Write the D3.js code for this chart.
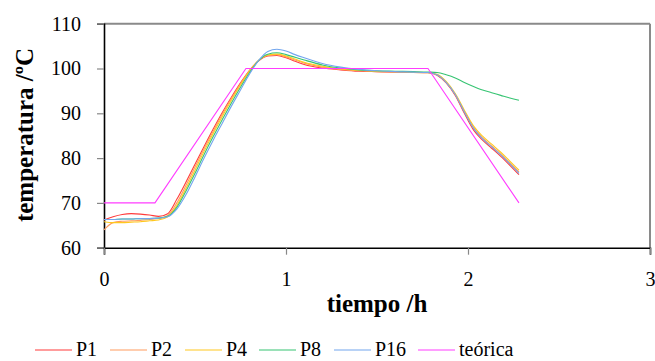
<!DOCTYPE html>
<html>
<head>
<meta charset="utf-8">
<script src="https://cdn.jsdelivr.net/npm/d3@7"></script>
<style>
  body { margin: 0; background: #fff; }
  svg { display: block; }
</style>
</head>
<body>
<svg id="chart" width="655" height="361"></svg>
<script>
// Sampling instants (h) shared by the measured probes
const times = [0, 0.05, 0.1, 0.15, 0.2, 0.25, 0.3, 0.35, 0.4, 0.45,
               0.5, 0.55, 0.6, 0.65, 0.7, 0.75, 0.8, 0.85, 0.9, 0.95,
               1.0, 1.05, 1.1, 1.2, 1.3, 1.4, 1.5, 1.6, 1.7, 1.78,
               1.83, 1.88, 1.93, 1.98, 2.03, 2.08, 2.13, 2.18, 2.23, 2.28];

// Measured temperatures (ºC) per probe
const p1  = [66.2, 66.9, 67.4, 67.6, 67.5, 67.3, 67.0, 67.6, 70.8, 74.6,
             78.6, 82.6, 86.5, 90.2, 93.6, 96.8, 99.6, 101.7, 102.8, 102.9,
             102.4, 101.6, 100.9, 100.1, 99.7, 99.4, 99.3, 99.2, 99.1, 99.1,
             98.5, 96.8, 94.0, 90.0, 86.3, 84.0, 82.2, 80.4, 78.4, 76.3];
const p2  = [64.0, 65.6, 65.9, 66.0, 66.1, 66.3, 66.5, 67.2, 70.0, 73.9,
             78.0, 82.1, 86.0, 89.8, 93.3, 96.6, 99.6, 101.8, 102.9, 103.1,
             102.6, 101.9, 101.2, 100.3, 99.8, 99.5, 99.3, 99.2, 99.1, 99.0,
             98.6, 96.9, 94.2, 90.4, 86.8, 84.5, 82.7, 80.9, 78.9, 76.9];
const p4  = [65.8, 65.6, 65.6, 65.7, 65.8, 66.0, 66.2, 66.9, 69.4, 73.2,
             77.3, 81.5, 85.5, 89.3, 92.9, 96.3, 99.4, 101.8, 103.0, 103.2,
             102.8, 102.1, 101.4, 100.5, 99.9, 99.6, 99.4, 99.3, 99.2, 99.1,
             98.7, 97.1, 94.4, 90.7, 87.2, 84.9, 83.1, 81.3, 79.3, 77.3];
const p8  = [66.3, 66.3, 66.4, 66.4, 66.5, 66.5, 66.6, 67.0, 69.0, 72.6,
             76.6, 80.8, 84.8, 88.6, 92.3, 95.8, 99.1, 101.8, 103.2, 103.5,
             103.1, 102.5, 101.9, 100.8, 100.1, 99.7, 99.5, 99.4, 99.3, 99.2,
             99.1, 98.6, 97.9, 96.9, 96.0, 95.2, 94.6, 94.0, 93.4, 92.9];
const p16 = [66.3, 66.3, 66.4, 66.4, 66.5, 66.5, 66.6, 66.9, 68.6, 71.8,
             75.8, 80.0, 84.0, 87.8, 91.6, 95.2, 98.8, 101.8, 103.8, 104.3,
             103.9, 103.1, 102.4, 101.1, 100.3, 99.8, 99.5, 99.3, 99.2, 99.1,
             98.6, 96.9, 94.2, 90.3, 86.7, 84.3, 82.5, 80.7, 78.7, 76.6];

// Theoretical set-point profile
const theoryTimes  = [0, 0.28, 0.78, 1.78, 2.28];
const theoryValues = [70, 70, 100, 100, 70];

// Axis ticks
const xTicks = [0, 1, 2, 3];
const yTicks = [60, 70, 80, 90, 100, 110];

// Legend entries
const seriesNames  = ["P1", "P2", "P4", "P8", "P16", "teórica"];
const seriesColors = ["#ff3b3b", "#ff9c5e", "#ffc81e", "#36c472", "#72a6ee", "#ff3cff"];

const measured = [p1, p2, p4, p8, p16];

const svg = d3.select("#chart");
const font = "'Liberation Serif', 'Times New Roman', serif";

const x = d3.scaleLinear().domain([0, 3]).range([104, 650]);
const y = d3.scaleLinear().domain([60, 110]).range([247.7, 23.7]);

// Plot frame: grey top/right edges
svg.append("line").attr("x1", x(0)).attr("x2", x(3)).attr("y1", y(110)).attr("y2", y(110))
  .attr("stroke", "#8a8a8a").attr("stroke-width", 2);
svg.append("line").attr("x1", x(3)).attr("x2", x(3)).attr("y1", y(110)).attr("y2", y(60))
  .attr("stroke", "#8a8a8a").attr("stroke-width", 2);

// Y axis
const yAxis = svg.append("g")
  .attr("transform", `translate(${x(0)},0)`)
  .call(d3.axisLeft(y).tickValues(yTicks).tickSize(7).tickPadding(16).tickFormat(d3.format("d")));
yAxis.select(".domain").attr("stroke", "#000").attr("stroke-width", 1.6);
yAxis.selectAll(".tick line").attr("stroke", "#888").attr("stroke-width", 1.2);
yAxis.selectAll(".tick text").attr("font-family", font).attr("font-size", 20).attr("fill", "#000");

// X axis
const xAxis = svg.append("g")
  .attr("transform", `translate(0,${y(60)})`)
  .call(d3.axisBottom(x).tickValues(xTicks).tickSize(7).tickPadding(17).tickFormat(d3.format("d")));
xAxis.select(".domain").attr("stroke", "#000").attr("stroke-width", 1.6);
xAxis.selectAll(".tick line").attr("stroke", "#888").attr("stroke-width", 1.2);
xAxis.selectAll(".tick text").attr("font-family", font).attr("font-size", 20).attr("fill", "#000");

// Measured curves
const smooth = d3.line()
  .x((d, i) => x(times[i]))
  .y(d => y(d))
  .curve(d3.curveMonotoneX);

svg.append("g").selectAll("path")
  .data(measured)
  .join("path")
  .attr("d", d => smooth(d))
  .attr("fill", "none")
  .attr("stroke", (d, i) => seriesColors[i])
  .attr("stroke-width", 1.1);

// Theoretical profile
const straight = d3.line()
  .x((d, i) => x(theoryTimes[i]))
  .y(d => y(d));
svg.append("path")
  .attr("d", straight(theoryValues))
  .attr("fill", "none")
  .attr("stroke", seriesColors[5])
  .attr("stroke-width", 1.1);

// Axis titles
svg.append("text")
  .attr("x", 377).attr("y", 312)
  .attr("text-anchor", "middle")
  .attr("font-family", font).attr("font-weight", "bold").attr("font-size", 25)
  .text("tiempo /h");

svg.append("text")
  .attr("transform", "translate(33,135) rotate(-90)")
  .attr("text-anchor", "middle")
  .attr("font-family", font).attr("font-weight", "bold").attr("font-size", 25)
  .text("temperatura /ºC");

// Legend
const legendX = [35, 110, 185, 259, 334, 418];
const legend = svg.append("g").selectAll("g")
  .data(seriesNames)
  .join("g")
  .attr("transform", (d, i) => `translate(${legendX[i]},350)`);
legend.append("line")
  .attr("x1", 0).attr("x2", 37).attr("y1", 0).attr("y2", 0)
  .attr("stroke", (d, i) => seriesColors[i]).attr("stroke-width", 1.1);
legend.append("text")
  .attr("x", 41).attr("y", 6)
  .attr("font-family", font).attr("font-size", 20)
  .text(d => d);
</script>
</body>
</html>
